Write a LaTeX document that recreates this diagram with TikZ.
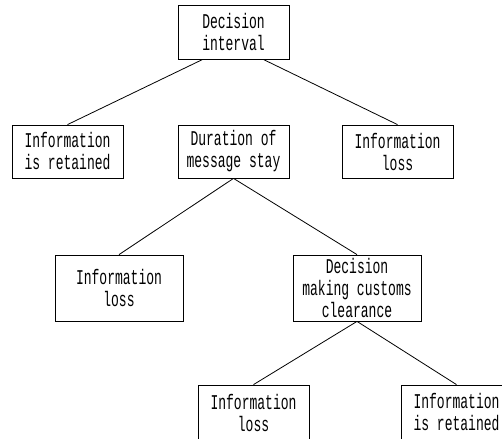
\documentclass[tikz,border=0pt]{standalone}
\usepackage{fontspec}
\setmonofont[FakeStretch=0.62]{Liberation Mono}
\usetikzlibrary{calc}
\begin{document}
\begin{tikzpicture}[x=1pt,y=-1pt,
  box/.style={draw=black,line width=0.8pt,inner sep=0pt,align=center,
    font=\ttfamily\fontsize{21}{22}\selectfont,minimum width=111pt,minimum height=53pt},
  widebox/.style={box,minimum width=128pt,minimum height=66pt},
  link/.style={draw=black,line width=0.8pt}]
\useasboundingbox (0,0) rectangle (502,438);
\clip (0,0) rectangle (502,438);
\node[box,minimum height=54pt] (top) at (233.5,32) {Decision\\interval};
\node[box] (l2a) at (67.5,151.5) {Information\\is retained};
\node[box] (l2b) at (233.5,151.5) {Duration of\\message stay};
\node[box] (l2c) at (397.5,151.5) {Information\\loss};
\node[widebox] (l3a) at (119,288) {Information\\loss};
\node[widebox] (l3b) at (357,288) {Decision\\making customs\\clearance};
\node[box,minimum height=55pt] (l4a) at (253.5,412.5) {Information\\loss};
\node[box,minimum height=55pt] (l4b) at (456.5,412.5) {Information\\is retained};
\draw[link] ($(top.south west)!0.225!(top.south east)$) -- (l2a.north);
\draw[link] ($(top.south west)!0.766!(top.south east)$) -- (l2c.north);
\draw[link] (l2b.south) -- (l3a.north);
\draw[link] (l2b.south) -- (l3b.north);
\draw[link] (l3b.south) -- (l4a.north);
\draw[link] (l3b.south) -- (l4b.north);
\end{tikzpicture}
\end{document}
